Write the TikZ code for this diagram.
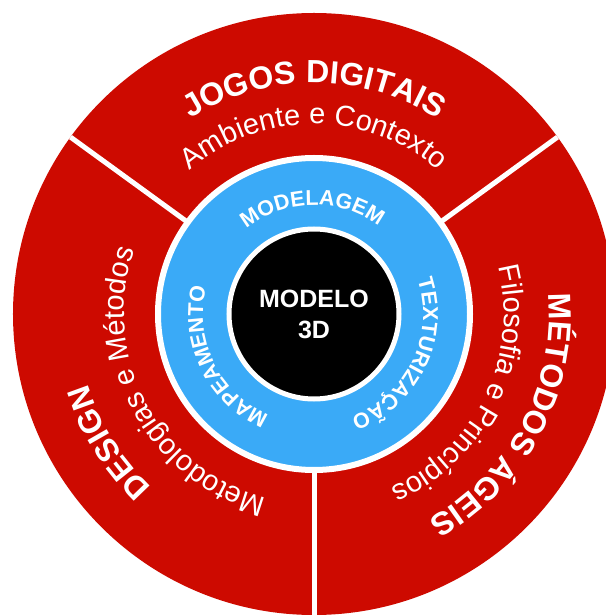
\documentclass[tikz,border=0pt]{standalone}
\usepackage{fontspec}
\setmainfont{Liberation Sans}
\usetikzlibrary{decorations.text}

\definecolor{sectorred}{RGB}{205,10,0}
\definecolor{ringblue}{RGB}{58,170,247}

% type styles used along the arcs
\newcommand\headfont{\bfseries\fontsize{32}{32}\selectfont\color{white}}
\newcommand\subfont{\fontsize{29}{29}\selectfont\color{white}}
\newcommand\ringfont{\bfseries\fontsize{21.5}{21.5}\selectfont\color{white}}

% \arclabel{centre angle}{baseline radius}{format}{text}
% text runs clockwise, letter tops facing outwards
\newcommand\arclabel[4]{%
  \path[decorate, decoration={text along path, text align=center,
        text={|#3|#4}}]
    ({#1+90}:#2) arc[start angle={#1+90}, end angle={#1-90}, radius=#2];
}

\tikzset{
  divider/.style={draw=white, line width=5pt},
  disc/.style={circle, inner sep=0pt, outer sep=0pt}
}

\begin{document}
\begin{tikzpicture}[x=1pt, y=1pt]
\useasboundingbox (-314,-301) rectangle (291,314);

% outer red disc and the three sector dividers
\node[disc, fill=sectorred, minimum size=602pt] (disk) at (0,0) {};
\foreach \a in {36,144,270}
  \draw[divider] (disk.center) -- (disk.\a);

% blue ring and black core
\node[disc, fill=ringblue, draw=white, line width=6pt, minimum size=312pt] (ring) at (0,0) {};
\node[disc, fill=black, draw=white, line width=5pt, minimum size=170pt,
      text=white, align=center, font=\bfseries\fontsize{25}{31}\selectfont] (core) at (0,0) {MODELO\\3D};

% sector titles
\arclabel{90}{231}{\headfont}{JOGOS DIGITAIS}
\arclabel{90}{190}{\subfont}{Ambiente e Contexto}
\arclabel{-28}{235}{\headfont}{M{É}TODOS {Á}GEIS}
\arclabel{-26}{190}{\subfont}{Filosofia e Princ{í}pios}
\arclabel{212}{237}{\headfont}{DESIGN}
\arclabel{208}{190}{\subfont}{Metodologias e M{é}todos}

% ring labels
\arclabel{91}{109}{\ringfont}{MODELAGEM}
\arclabel{-26}{109}{\ringfont}{TEXTURIZA{Ç}{Ã}O}
\arclabel{206}{111}{\ringfont}{MAPEAMENTO}
\end{tikzpicture}
\end{document}
